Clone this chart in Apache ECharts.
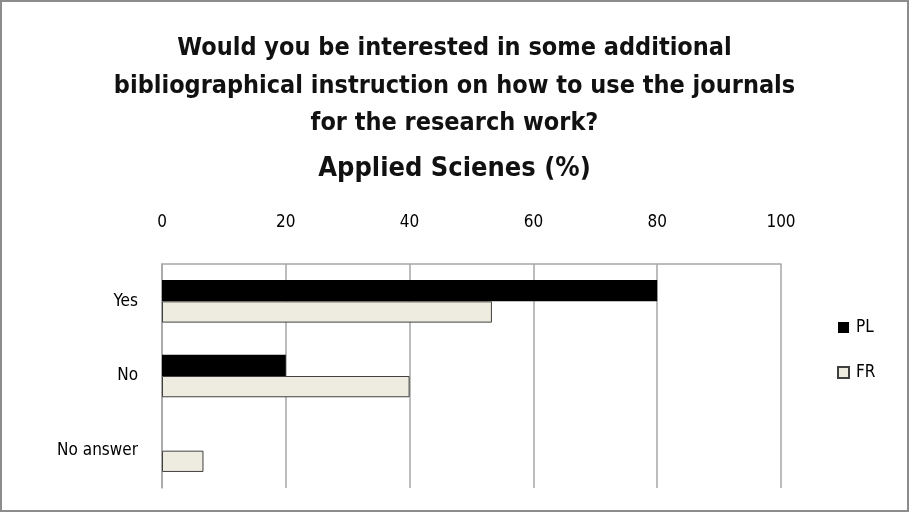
<!DOCTYPE html>
<html>
<head>
<meta charset="utf-8">
<script src="https://cdn.jsdelivr.net/npm/echarts@6/dist/echarts.min.js"></script>
<style>
html,body{margin:0;padding:0;background:#fff;}
#frame{position:absolute;left:0;top:0;width:905px;height:508px;border:2px solid #8c8c8c;}
#chart{position:absolute;left:0;top:0;width:909px;height:512px;}
</style>
</head>
<body>
<div id="frame"></div>
<div id="chart"></div>
<script>
var categories = ['Yes', 'No', 'No answer'];
var plValues = [80, 20, 0];
var frValues = [53.3, 40, 6.7];
var axisTicks = [0, 20, 40, 60, 80, 100];
var titleLines = ['Would you be interested in some additional', 'bibliographical instruction on how to use the journals', 'for the research work?'];
var subtitleText = 'Applied Scienes (%)';

var chart = echarts.init(document.getElementById('chart'));
var fontFam = '"Liberation Sans Narrow", "DejaVu Sans Condensed", sans-serif';
chart.setOption({
  animation: false,
  title: [{
    text: titleLines.join('\n'),
    left: 'center',
    top: 25,
    textStyle: {fontFamily: fontFam, fontSize: 25, fontWeight: 'bold', color: '#111', lineHeight: 37.5}
  }, {
    text: subtitleText,
    left: 'center',
    top: 150,
    textStyle: {fontFamily: fontFam, fontSize: 27, fontWeight: 'bold', color: '#111'}
  }],
  legend: {
    orient: 'vertical',
    left: 832,
    top: 314,
    itemWidth: 11,
    itemHeight: 11,
    itemGap: 28,
    icon: 'rect',
    textStyle: {fontFamily: fontFam, fontSize: 17, color: '#000', padding: [0,0,0,2]},
    data: ['PL', 'FR']
  },
  grid: {left: 162, right: 128, top: 264, bottom: 24, containLabel: false},
  xAxis: {
    type: 'value',
    position: 'top',
    min: axisTicks[0],
    max: axisTicks[axisTicks.length - 1],
    interval: 20,
    axisLine: {show: true, lineStyle: {color: '#a6a6a6', width: 1.5}},
    axisTick: {show: false},
    axisLabel: {fontFamily: fontFam, fontSize: 17, color: '#000', margin: 33},
    splitLine: {show: true, lineStyle: {color: '#a6a6a6', width: 1.5}}
  },
  yAxis: {
    type: 'category',
    inverse: true,
    data: categories,
    axisLine: {show: true, lineStyle: {color: '#a6a6a6', width: 1.5}},
    axisTick: {show: false},
    axisLabel: {fontFamily: fontFam, fontSize: 17, color: '#000', margin: 24}
  },
  series: [{
    name: 'PL',
    type: 'bar',
    data: plValues,
    barGap: '0%',
    barCategoryGap: '43%',
    itemStyle: {color: '#000', borderColor: '#000', borderWidth: 0}
  }, {
    name: 'FR',
    type: 'bar',
    data: frValues,
    barGap: '0%',
    barCategoryGap: '43%',
    itemStyle: {color: '#eeebe0', borderColor: '#404040', borderWidth: 1}
  }]
});
</script>
</body>
</html>
